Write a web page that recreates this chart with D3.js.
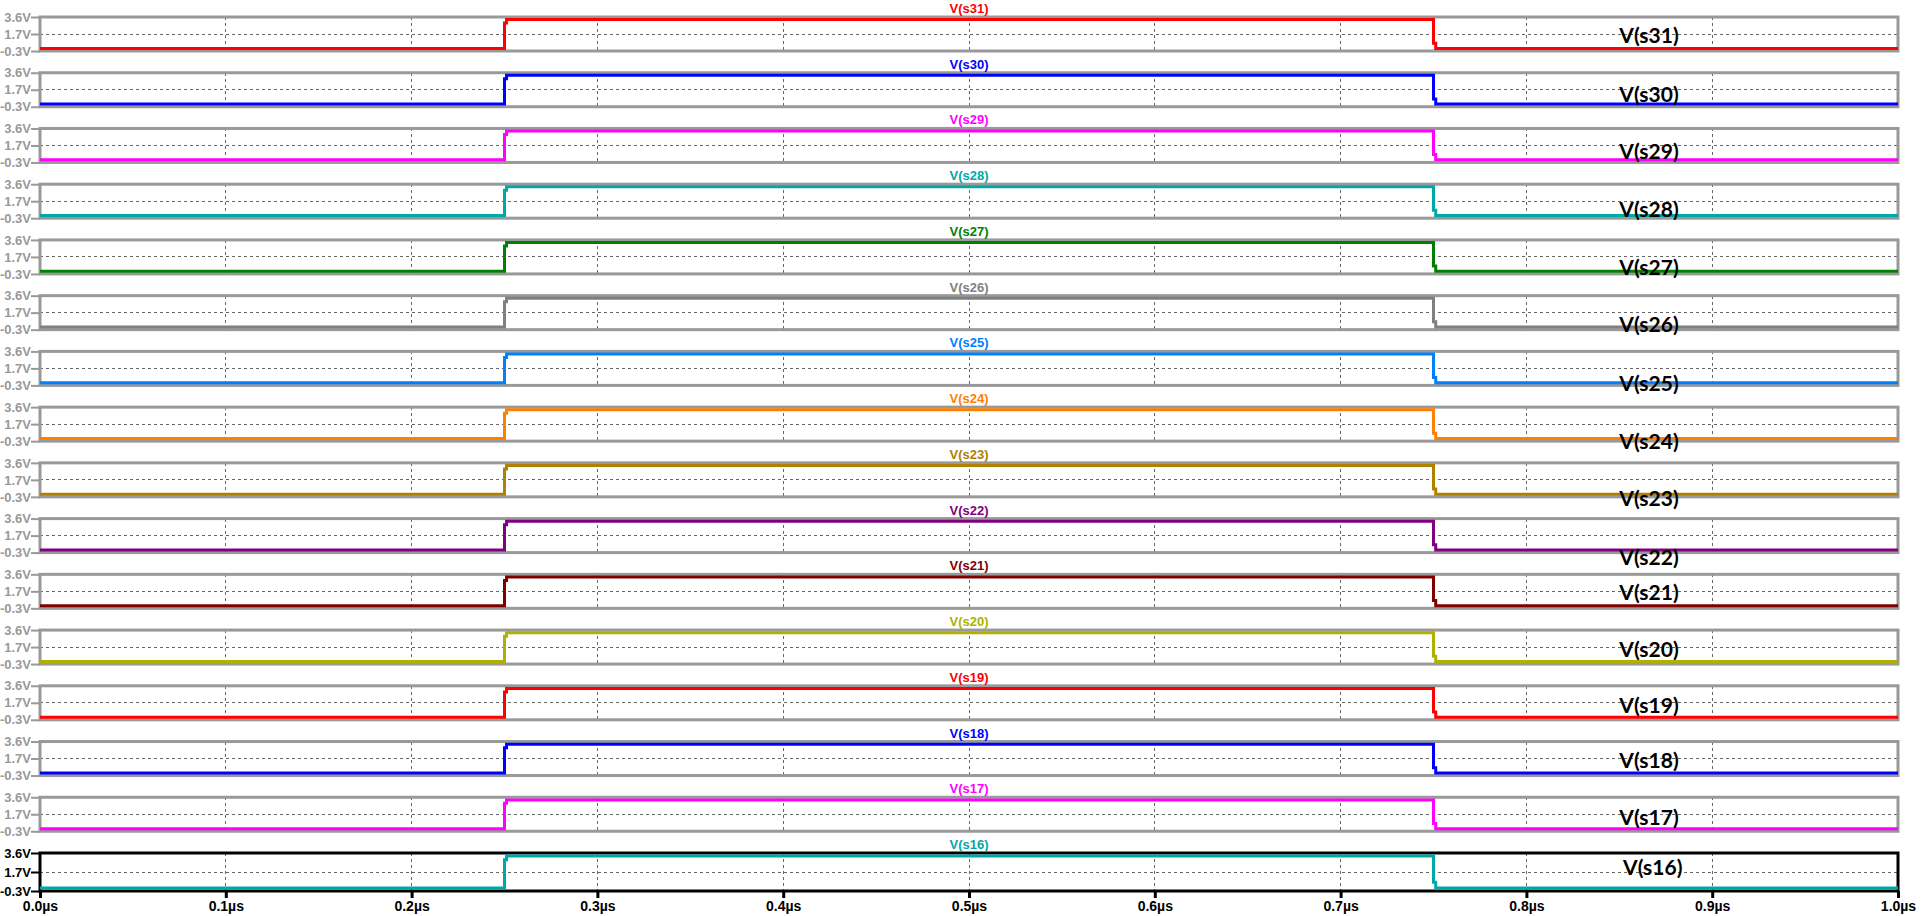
<!DOCTYPE html>
<html><head><meta charset="utf-8">
<script src="https://cdn.jsdelivr.net/npm/d3@7"></script>
<style>
body{margin:0;background:#fff;overflow:hidden}
text{font-family:"Liberation Sans",Arial,sans-serif;}
</style>
</head><body>
<svg id="chart" width="1928" height="916"></svg>
<script>
// ---------- data ----------
const signals = ["V(s31)","V(s30)","V(s29)","V(s28)","V(s27)","V(s26)","V(s25)","V(s24)",
                 "V(s23)","V(s22)","V(s21)","V(s20)","V(s19)","V(s18)","V(s17)","V(s16)"];
const traceColors = ["#ff0000","#0000ff","#ff00ff","#00a8a8","#008000","#808080","#0080ff","#ff8000",
                     "#b08000","#800080","#800000","#b0b000","#ff0000","#0000ff","#ff00ff","#00a8a8"];
// waveform shared by all nodes (time in µs, volts)
const timeUs = [0, 0.25, 0.25, 0.2511, 0.2511, 0.75, 0.75, 0.7512, 0.7512, 1.0];
const volts  = [0, 0,    2.9,  2.9,    3.3,    3.3,  0.6,  0.6,    0,      0];
const yTickValues = [-0.3, 1.65, 3.6];
const yTickLabels = ["-0.3V", "1.7V", "3.6V"];
const xTickValues = [0, 0.1, 0.2, 0.3, 0.4, 0.5, 0.6, 0.7, 0.8, 0.9, 1.0];
const xTickLabels = ["0.0µs","0.1µs","0.2µs","0.3µs","0.4µs","0.5µs","0.6µs","0.7µs","0.8µs","0.9µs","1.0µs"];
// annotation anchors (time µs, volts in own pane)
const noteTimeUs = [0.866,0.866,0.866,0.866,0.866,0.866,0.866,0.866,0.866,0.866,0.866,0.866,0.866,0.866,0.866,0.868];
const noteVolts  = [1.54,1.16,0.96,0.76,0.49,0.35,-0.02,-0.29,-0.44,-0.80,1.57,1.42,1.40,1.48,1.33,2.16];

// ---------- layout ----------
const svg = d3.select("#chart");
const x = d3.scaleLinear().domain([0, 1]).range([40, 1898]);
const paneTop = d3.scaleLinear().domain([0, signals.length - 1]).range([17, 853]);
const GRAY = "#999999";

const pts = timeUs.map((t, i) => [t, volts[i]]);

signals.forEach((name, i) => {
  const last = i === signals.length - 1;
  const top = paneTop(i);
  const h = last ? 38 : 34;
  const y = d3.scaleLinear().domain([-0.3, 3.6]).range([top + h, top]);
  const frameColor = last ? "#000" : GRAY;
  const g = svg.append("g");

  // dashed grid
  g.append("g").selectAll("line").data(xTickValues.filter(v => v > 0 && v < 1)).join("line")
    .attr("x1", d => x(d)).attr("x2", d => x(d))
    .attr("y1", y(3.6)).attr("y2", y(-0.3))
    .attr("stroke", "#666").attr("stroke-width", 1).attr("stroke-dasharray", "3,3")
    .attr("shape-rendering", "crispEdges");
  g.append("line")
    .attr("x1", x(0)).attr("x2", x(1)).attr("y1", y(1.65)).attr("y2", y(1.65))
    .attr("stroke", "#666").attr("stroke-width", 1).attr("stroke-dasharray", "3,3")
    .attr("shape-rendering", "crispEdges");

  // frame
  g.append("rect")
    .attr("x", x(0)).attr("y", y(3.6))
    .attr("width", x(1) - x(0)).attr("height", y(-0.3) - y(3.6))
    .attr("fill", "none").attr("stroke", frameColor).attr("stroke-width", 3);

  // left axis
  const ax = g.append("g").attr("transform", `translate(${x(0)},0)`)
    .call(d3.axisLeft(y).tickValues(yTickValues).tickSize(9).tickPadding(0)
      .tickFormat((d, k) => yTickLabels[k]));
  ax.select(".domain").remove();
  ax.selectAll("line").attr("stroke", frameColor).attr("stroke-width", 2);
  ax.selectAll("text").attr("fill", frameColor)
    .style("font-family", '"Liberation Sans", Arial, sans-serif')
    .style("font-size", "13px").style("font-weight", "bold");

  // trace
  g.append("path")
    .datum(pts)
    .attr("d", d3.line().x(d => x(d[0])).y(d => y(d[1])))
    .attr("fill", "none").attr("stroke", traceColors[i]).attr("stroke-width", 3)
    .attr("stroke-linejoin", "miter");

  // title
  g.append("text")
    .attr("x", (x(0) + x(1)) / 2).attr("y", top - 4)
    .attr("text-anchor", "middle")
    .attr("fill", traceColors[i])
    .style("font-size", "13px").style("font-weight", "bold")
    .text(name);

  // bottom axis on last pane
  if (last) {
    const bx = svg.append("g").attr("transform", `translate(0,${y(-0.3)})`)
      .call(d3.axisBottom(x).tickValues(xTickValues).tickSize(7).tickPadding(3)
        .tickFormat((d, k) => xTickLabels[k]));
    bx.select(".domain").remove();
    bx.selectAll("line").attr("stroke", "#000").attr("stroke-width", 3);
    bx.selectAll("text").attr("fill", "#000")
      .style("font-family", '"Liberation Sans", Arial, sans-serif')
      .style("font-size", "14px").style("font-weight", "bold");
  }

  // annotation label
  svg.append("text")
    .attr("x", x(noteTimeUs[i])).attr("y", y(noteVolts[i]))
    .attr("dy", "0.36em")
    .attr("text-anchor", "middle")
    .attr("fill", "#000")
    .style("font-family", "Lato, 'Open Sans', sans-serif")
    .style("font-size", "21px").style("font-weight", "bold")
    .text(name);
});
</script>
</body></html>
